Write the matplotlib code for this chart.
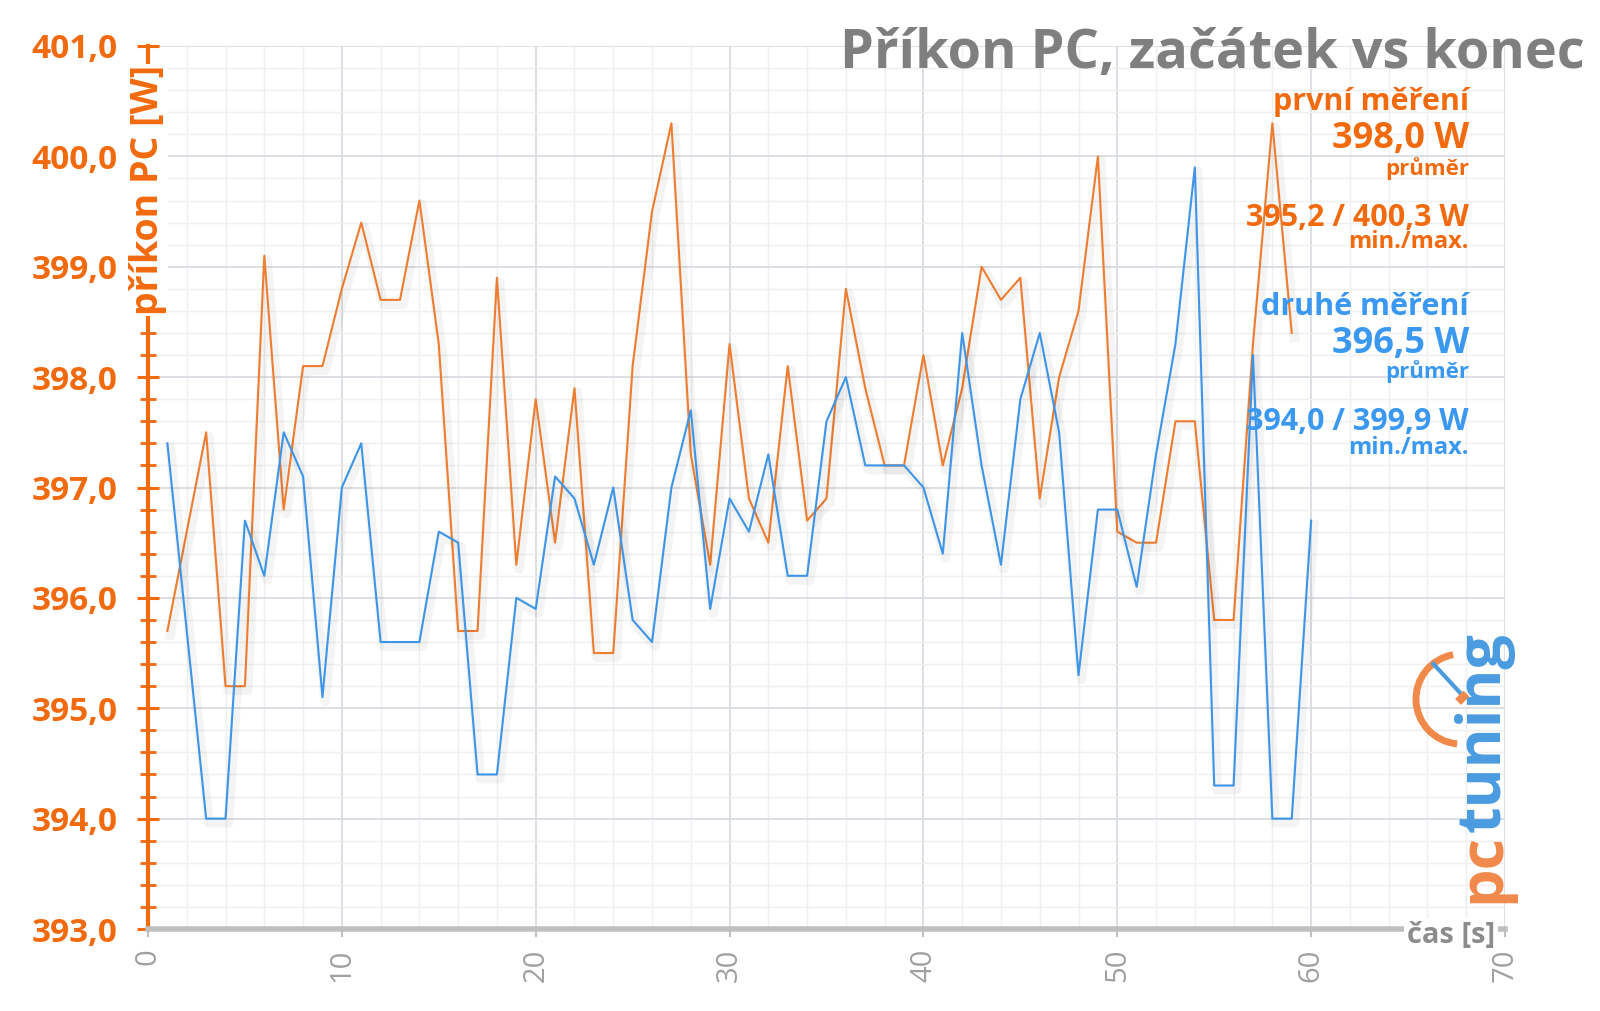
import matplotlib
matplotlib.use("Agg")
import matplotlib.pyplot as plt
import matplotlib.patheffects as pe
from matplotlib.patches import Arc
from matplotlib.ticker import MultipleLocator, FuncFormatter

plt.rcParams["font.family"] = ["Open Sans", "DejaVu Sans"]

ORANGE_LINE = "#ED7D31"
ORANGE_TEXT = "#F26A0E"
BLUE_LINE = "#3E95E6"
BLUE_TEXT = "#3A98F0"
TITLE_GRAY = "#7F7F7F"
AXIS_GRAY = "#BFBFBF"

# první měření (začátek), 1..59 s
time_first = list(range(1, 60))
power_first = [
    395.7, 396.6, 397.5, 395.2, 395.2, 399.1, 396.8, 398.1, 398.1, 398.8,
    399.4, 398.7, 398.7, 399.6, 398.3, 395.7, 395.7, 398.9, 396.3, 397.8,
    396.5, 397.9, 395.5, 395.5, 398.1, 399.5, 400.3, 397.3, 396.3, 398.3,
    396.9, 396.5, 398.1, 396.7, 396.9, 398.8, 397.9, 397.2, 397.2, 398.2,
    397.2, 397.9, 399.0, 398.7, 398.9, 396.9, 398.0, 398.6, 400.0, 396.6,
    396.5, 396.5, 397.6, 397.6, 395.8, 395.8, 398.3, 400.3, 398.4,
]

# druhé měření (konec), 1..60 s
time_second = list(range(1, 61))
power_second = [
    397.4, 395.7, 394.0, 394.0, 396.7, 396.2, 397.5, 397.1, 395.1, 397.0,
    397.4, 395.6, 395.6, 395.6, 396.6, 396.5, 394.4, 394.4, 396.0, 395.9,
    397.1, 396.9, 396.3, 397.0, 395.8, 395.6, 397.0, 397.7, 395.9, 396.9,
    396.6, 397.3, 396.2, 396.2, 397.6, 398.0, 397.2, 397.2, 397.2, 397.0,
    396.4, 398.4, 397.2, 396.3, 397.8, 398.4, 397.5, 395.3, 396.8, 396.8,
    396.1, 397.3, 398.3, 399.9, 394.3, 394.3, 398.2, 394.0, 394.0, 396.7,
]

title = "Příkon PC, začátek vs konec"
first_label = "první měření"
first_avg = "398,0 W"
first_minmax = "395,2 / 400,3 W"
second_label = "druhé měření"
second_avg = "396,5 W"
second_minmax = "394,0 / 399,9 W"

W, H = 1600, 1011
fig = plt.figure(figsize=(W / 100, H / 100), dpi=100)
ax = fig.add_axes([148 / W, 1 - 929 / H, (1505 - 148) / W, (929 - 46) / H])

shadow = [pe.SimpleLineShadow(offset=(2, -3), shadow_color="black", alpha=0.045, linewidth=7), pe.Normal()]
ax.plot(time_first, power_first, color=ORANGE_LINE, lw=1.5, path_effects=shadow, zorder=3)
ax.plot(time_second, power_second, color=BLUE_LINE, lw=1.5, path_effects=shadow, zorder=3)

ax.set_xlim(0, 70)
ax.set_ylim(393, 401)
ax.xaxis.set_major_locator(MultipleLocator(10))
ax.xaxis.set_minor_locator(MultipleLocator(2))
ax.yaxis.set_major_locator(MultipleLocator(1))
ax.yaxis.set_minor_locator(MultipleLocator(0.2))
ax.yaxis.set_major_formatter(FuncFormatter(lambda v, p: f"{v:.1f}".replace(".", ",")))

ax.grid(which="major", color="#D9DCE1", lw=1.3)
ax.grid(which="minor", color="#EFEFEF", lw=1.0)
ax.set_axisbelow(True)

for s in ("top", "right"):
    ax.spines[s].set_visible(False)
ax.spines["left"].set_color(ORANGE_TEXT)
ax.spines["left"].set_linewidth(3)
ax.spines["bottom"].set_color(AXIS_GRAY)
ax.spines["bottom"].set_linewidth(4)

ax.tick_params(axis="y", which="major", direction="inout", length=16, width=2.2,
               color=ORANGE_TEXT, labelcolor=ORANGE_TEXT, labelsize=24, pad=14)
ax.tick_params(axis="y", which="minor", direction="inout", length=11, width=2, color=ORANGE_TEXT)
ax.tick_params(axis="x", which="major", direction="out", length=6, width=1.5,
               color=AXIS_GRAY, labelcolor="#A0A0A0", labelsize=21, pad=8, labelrotation=90)
ax.tick_params(axis="x", which="minor", length=0)
for lbl in ax.get_yticklabels():
    lbl.set_fontweight("bold")

ax.text(0, 1 - (190 - 46) / (929 - 46), "příkon PC [W]", transform=ax.transAxes, rotation=90,
        ha="center", va="center", color=ORANGE_TEXT, fontsize=27, fontweight="bold",
        zorder=6, clip_on=False, bbox=dict(boxstyle="square,pad=0.02", fc="white", ec="none"))
ax.text(1451 / W, 1 - 935 / H, "čas [s]", transform=fig.transFigure, ha="center", va="center",
        color="#8C8C8C", fontsize=21, fontweight="bold", zorder=6, clip_on=False,
        bbox=dict(boxstyle="square,pad=0.1", fc="white", ec="none"))

fig.text(1585 / W, 1 - 68 / H, title, ha="right", va="baseline", color=TITLE_GRAY,
         fontsize=39, fontweight="bold")

right = 1469 / W
notes = [
    (first_label, 110, 22, ORANGE_TEXT),
    (first_avg, 148, 26, ORANGE_TEXT),
    ("průměr", 175, 16, ORANGE_TEXT),
    (first_minmax, 226, 22, ORANGE_TEXT),
    ("min./max.", 248, 17, ORANGE_TEXT),
    (second_label, 315, 22, BLUE_TEXT),
    (second_avg, 353, 26, BLUE_TEXT),
    ("průměr", 378, 16, BLUE_TEXT),
    (second_minmax, 430, 22, BLUE_TEXT),
    ("min./max.", 454, 17, BLUE_TEXT),
]
for txt, y, size, col in notes:
    fig.text(right, 1 - y / H, txt, ha="right", va="baseline", color=col,
             fontsize=size, fontweight="bold")

# logo pctuning
pc = fig.text(1484 / W, 1 - 903 / H, "pc", rotation=90, ha="center", va="bottom",
              color="#F0894A", fontsize=44, fontweight="bold")
fig.canvas.draw()
pc_top = pc.get_window_extent().y1
fig.text(1484 / W, (pc_top + 1) / H, "tuning", rotation=90, ha="center", va="bottom",
         color="#4A9BE0", fontsize=44, fontweight="bold")
logo_ax = fig.add_axes([(1461 - 50) / W, 1 - (699 + 50) / H, 100 / W, 100 / H])
logo_ax.set_xlim(-1, 1)
logo_ax.set_ylim(-1, 1)
logo_ax.axis("off")
logo_ax.add_patch(Arc((0, 0), 1.8, 1.8, theta1=100, theta2=265, color="#F0894A", lw=5))
logo_ax.plot([-0.55, 0.05], [0.7, 0.05], color="#4A9BE0", lw=3)
logo_ax.plot([0.05, 0.0], [0.05, 0.0], color="#F0894A", lw=6)

fig.savefig("out.png", dpi=100)
